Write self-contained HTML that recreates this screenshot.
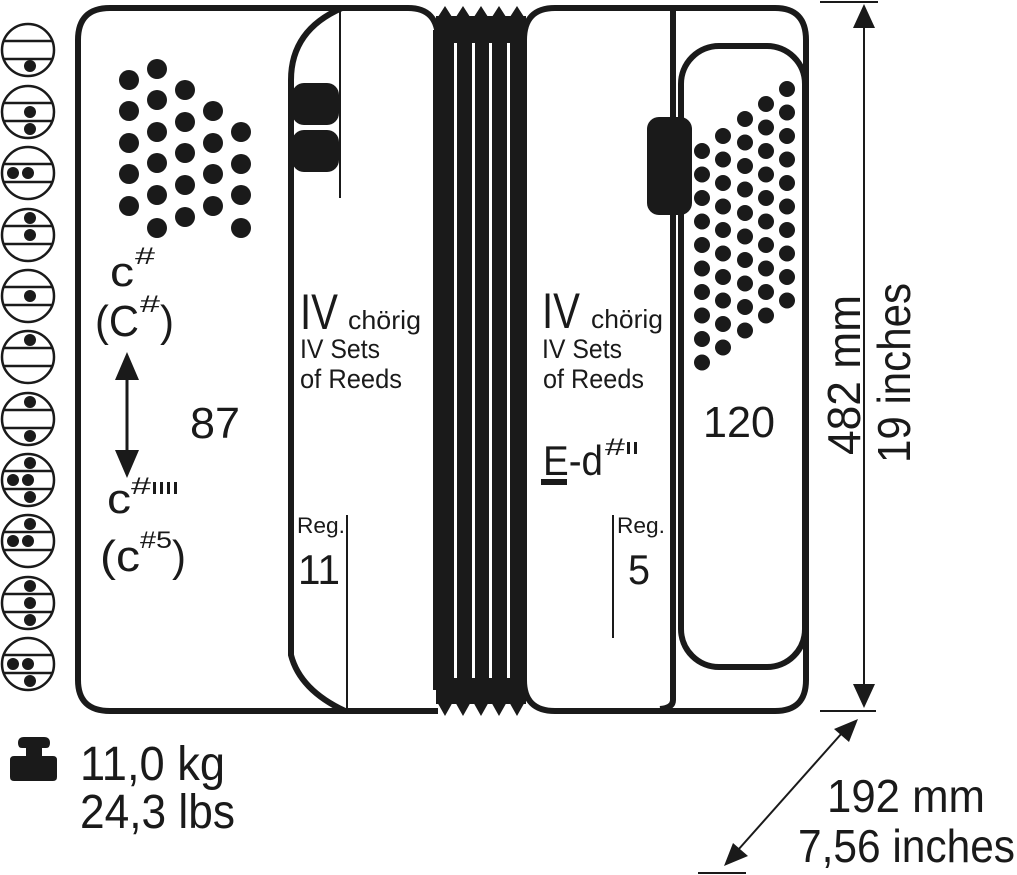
<!DOCTYPE html>
<html><head><meta charset="utf-8"><style>
html,body{margin:0;padding:0;background:#fff;}
svg{display:block;}
text{font-family:"Liberation Sans Narrow","Liberation Sans",sans-serif;fill:#1a1a1a;}
</style></head><body>
<svg width="1017" height="875" viewBox="0 0 1017 875" xmlns="http://www.w3.org/2000/svg">
<g stroke="#1a1a1a" fill="none">
<g stroke-width="2.5">
<circle cx="28" cy="50" r="26"/><line x1="3" y1="41" x2="53" y2="41"/><line x1="3" y1="59" x2="53" y2="59"/>
<circle cx="28" cy="112" r="26"/><line x1="3" y1="103" x2="53" y2="103"/><line x1="3" y1="121" x2="53" y2="121"/>
<circle cx="28" cy="173" r="26"/><line x1="3" y1="164" x2="53" y2="164"/><line x1="3" y1="182" x2="53" y2="182"/>
<circle cx="28" cy="235" r="26"/><line x1="3" y1="226" x2="53" y2="226"/><line x1="3" y1="244" x2="53" y2="244"/>
<circle cx="28" cy="296" r="26"/><line x1="3" y1="287" x2="53" y2="287"/><line x1="3" y1="305" x2="53" y2="305"/>
<circle cx="28" cy="357" r="26"/><line x1="3" y1="348" x2="53" y2="348"/><line x1="3" y1="366" x2="53" y2="366"/>
<circle cx="28" cy="419" r="26"/><line x1="3" y1="410" x2="53" y2="410"/><line x1="3" y1="428" x2="53" y2="428"/>
<circle cx="28" cy="480" r="26"/><line x1="3" y1="471" x2="53" y2="471"/><line x1="3" y1="489" x2="53" y2="489"/>
<circle cx="28" cy="541" r="26"/><line x1="3" y1="532" x2="53" y2="532"/><line x1="3" y1="550" x2="53" y2="550"/>
<circle cx="28" cy="603" r="26"/><line x1="3" y1="594" x2="53" y2="594"/><line x1="3" y1="612" x2="53" y2="612"/>
<circle cx="28" cy="664" r="26"/><line x1="3" y1="655" x2="53" y2="655"/><line x1="3" y1="673" x2="53" y2="673"/>
</g>
</g>
<g fill="#1a1a1a">
<circle cx="30" cy="66" r="6"/>
<circle cx="30" cy="112" r="6"/><circle cx="30" cy="129" r="6"/>
<circle cx="13" cy="173" r="6"/><circle cx="28" cy="173" r="6"/>
<circle cx="30" cy="218" r="6"/><circle cx="30" cy="235" r="6"/>
<circle cx="30" cy="296" r="6"/>
<circle cx="30" cy="340" r="6"/>
<circle cx="30" cy="402" r="6"/><circle cx="30" cy="436" r="6"/>
<circle cx="30" cy="463" r="6"/><circle cx="13" cy="480" r="6"/><circle cx="28" cy="480" r="6"/><circle cx="30" cy="497" r="6"/>
<circle cx="30" cy="524" r="6"/><circle cx="13" cy="541" r="6"/><circle cx="28" cy="541" r="6"/>
<circle cx="30" cy="586" r="6"/><circle cx="30" cy="603" r="6"/><circle cx="30" cy="620" r="6"/>
<circle cx="13" cy="664" r="6"/><circle cx="28" cy="664" r="6"/><circle cx="30" cy="681" r="6"/>
</g>

<g fill="#1a1a1a">
<rect x="436" y="16" width="90" height="688"/>
<path d="M436,20 L445,6 L454,20 L463,6 L472,20 L481,6 L490,20 L499,6 L508,20 L517,6 L526,20z"/>
<path d="M436,700 L445,716 L454,700 L463,716 L472,700 L481,716 L490,700 L499,716 L508,700 L517,716 L526,700z"/>
</g>
<g fill="#fff">
<rect x="454" y="43" width="3" height="635"/>
<rect x="472" y="43" width="3" height="635"/>
<rect x="489" y="43" width="3" height="635"/>
<rect x="507" y="43" width="3" height="635"/>
</g>

<g fill="none" stroke="#1a1a1a" stroke-width="6">
<path d="M438,40 Q438,8 408,8 L110,8 Q78,8 78,40 L78,680 Q78,711 110,711 L438,711"/>
<line x1="436" y1="30" x2="436" y2="690"/>
<path d="M342,8 Q291,30 291,80 L291,655 Q300,690 345,711"/>
<path d="M524,40 Q524,8 555,8 L775,8 Q806,8 806,40 L806,680 Q806,711 775,711 L555,711 Q524,711 524,680z"/>
<path d="M673,10 L673,700 Q673,708 660,709"/>
<rect x="681" y="46" width="124" height="621" rx="38" ry="38"/>
</g>
<g stroke="#1a1a1a" stroke-width="2" fill="none">
<line x1="340" y1="8" x2="340" y2="198"/>
<line x1="347" y1="515" x2="347" y2="711"/>
<line x1="613" y1="515" x2="613" y2="638"/>
</g>

<g fill="#1a1a1a">
<circle cx="129" cy="80" r="10"/><circle cx="129" cy="111" r="10"/><circle cx="129" cy="143" r="10"/><circle cx="129" cy="174" r="10"/><circle cx="129" cy="206" r="10"/>
<circle cx="157" cy="69" r="10"/><circle cx="157" cy="100" r="10"/><circle cx="157" cy="132" r="10"/><circle cx="157" cy="163" r="10"/><circle cx="157" cy="195" r="10"/><circle cx="157" cy="228" r="10"/>
<circle cx="185" cy="90" r="10"/><circle cx="185" cy="122" r="10"/><circle cx="185" cy="153" r="10"/><circle cx="185" cy="185" r="10"/><circle cx="185" cy="217" r="10"/>
<circle cx="213" cy="111" r="10"/><circle cx="213" cy="143" r="10"/><circle cx="213" cy="174" r="10"/><circle cx="213" cy="206" r="10"/>
<circle cx="241" cy="132" r="10"/><circle cx="241" cy="164" r="10"/><circle cx="241" cy="195" r="10"/><circle cx="241" cy="228" r="10"/>
<rect x="292" y="83" width="47" height="42" rx="12"/>
<rect x="292" y="130" width="47" height="42" rx="12"/>
<rect x="647" y="117" width="45" height="98" rx="12"/>
</g>
<g fill="#1a1a1a">
<circle cx="702" cy="151" r="8"/><circle cx="702" cy="174.5" r="8"/><circle cx="702" cy="198" r="8"/><circle cx="702" cy="221.5" r="8"/><circle cx="702" cy="245" r="8"/><circle cx="702" cy="268.5" r="8"/><circle cx="702" cy="292" r="8"/><circle cx="702" cy="315.5" r="8"/><circle cx="702" cy="339" r="8"/><circle cx="702" cy="362.5" r="8"/>
<circle cx="723" cy="136" r="8"/><circle cx="723" cy="159.5" r="8"/><circle cx="723" cy="183" r="8"/><circle cx="723" cy="206.5" r="8"/><circle cx="723" cy="230" r="8"/><circle cx="723" cy="253.5" r="8"/><circle cx="723" cy="277" r="8"/><circle cx="723" cy="300.5" r="8"/><circle cx="723" cy="324" r="8"/><circle cx="723" cy="347.5" r="8"/>
<circle cx="745" cy="119" r="8"/><circle cx="745" cy="142.5" r="8"/><circle cx="745" cy="166" r="8"/><circle cx="745" cy="189.5" r="8"/><circle cx="745" cy="213" r="8"/><circle cx="745" cy="236.5" r="8"/><circle cx="745" cy="260" r="8"/><circle cx="745" cy="283.5" r="8"/><circle cx="745" cy="307" r="8"/><circle cx="745" cy="330.5" r="8"/>
<circle cx="766" cy="104" r="8"/><circle cx="766" cy="127.5" r="8"/><circle cx="766" cy="151" r="8"/><circle cx="766" cy="174.5" r="8"/><circle cx="766" cy="198" r="8"/><circle cx="766" cy="221.5" r="8"/><circle cx="766" cy="245" r="8"/><circle cx="766" cy="268.5" r="8"/><circle cx="766" cy="292" r="8"/><circle cx="766" cy="315.5" r="8"/>
<circle cx="787" cy="89" r="8"/><circle cx="787" cy="112.5" r="8"/><circle cx="787" cy="136" r="8"/><circle cx="787" cy="159.5" r="8"/><circle cx="787" cy="183" r="8"/><circle cx="787" cy="206.5" r="8"/><circle cx="787" cy="230" r="8"/><circle cx="787" cy="253.5" r="8"/><circle cx="787" cy="277" r="8"/><circle cx="787" cy="300.5" r="8"/>
</g>

<line x1="127" y1="375" x2="127" y2="455" stroke="#1a1a1a" stroke-width="3"/>
<path d="M127,352 L139,380 L115,380z M127,478 L139,450 L115,450z" fill="#1a1a1a"/>

<text x="110" y="286" font-size="42" textLength="24" lengthAdjust="spacingAndGlyphs">c</text>
<text x="135" y="264" font-size="24" textLength="20" lengthAdjust="spacingAndGlyphs">#</text>
<text x="95" y="336" font-size="44" textLength="44" lengthAdjust="spacingAndGlyphs">(C</text>
<text x="140" y="312" font-size="24" textLength="20" lengthAdjust="spacingAndGlyphs">#</text>
<text x="160" y="336" font-size="44" textLength="14" lengthAdjust="spacingAndGlyphs">)</text>
<text x="190" y="438" font-size="44" textLength="50" lengthAdjust="spacingAndGlyphs">87</text>
<text x="107" y="513" font-size="42" textLength="24" lengthAdjust="spacingAndGlyphs">c</text>
<text x="131" y="494" font-size="24" textLength="20" lengthAdjust="spacingAndGlyphs">#</text>
<g fill="#1a1a1a"><rect x="153" y="482" width="3" height="12"/><rect x="160" y="482" width="3" height="12"/><rect x="167" y="482" width="3" height="12"/><rect x="174" y="482" width="3" height="12"/></g>
<text x="100" y="571" font-size="44" textLength="40" lengthAdjust="spacingAndGlyphs">(c</text>
<text x="140" y="548" font-size="24" textLength="32" lengthAdjust="spacingAndGlyphs">#5</text>
<text x="172" y="571" font-size="44" textLength="14" lengthAdjust="spacingAndGlyphs">)</text>

<text x="300" y="329" font-size="50" textLength="38" lengthAdjust="spacingAndGlyphs">IV</text>
<text x="348" y="329" font-size="26" textLength="73" lengthAdjust="spacingAndGlyphs">chörig</text>
<text x="300" y="358" font-size="27" textLength="80" lengthAdjust="spacingAndGlyphs">IV Sets</text>
<text x="300" y="388" font-size="27" textLength="102" lengthAdjust="spacingAndGlyphs">of Reeds</text>
<text x="297" y="533" font-size="22" textLength="48" lengthAdjust="spacingAndGlyphs">Reg.</text>
<text x="298" y="584" font-size="42" textLength="42" lengthAdjust="spacingAndGlyphs">11</text>

<text x="542" y="328" font-size="50" textLength="38" lengthAdjust="spacingAndGlyphs">IV</text>
<text x="591" y="328" font-size="26" textLength="72" lengthAdjust="spacingAndGlyphs">chörig</text>
<text x="542" y="358" font-size="27" textLength="80" lengthAdjust="spacingAndGlyphs">IV Sets</text>
<text x="543" y="388" font-size="27" textLength="101" lengthAdjust="spacingAndGlyphs">of Reeds</text>
<text x="543" y="475" font-size="42" textLength="60" lengthAdjust="spacingAndGlyphs">E-d</text>
<text x="605" y="455" font-size="24" textLength="20" lengthAdjust="spacingAndGlyphs">#</text>
<g fill="#1a1a1a"><rect x="627" y="442" width="3" height="12"/><rect x="634" y="442" width="3" height="12"/><rect x="541" y="479" width="26" height="6"/></g>
<text x="617" y="533" font-size="22" textLength="48" lengthAdjust="spacingAndGlyphs">Reg.</text>
<text x="628" y="584" font-size="42" textLength="22" lengthAdjust="spacingAndGlyphs">5</text>
<text x="703" y="437" font-size="44" textLength="72" lengthAdjust="spacingAndGlyphs">120</text>

<g stroke="#1a1a1a" stroke-width="2" fill="none">
<line x1="820" y1="2" x2="878" y2="2"/>
<line x1="820" y1="711" x2="876" y2="711"/>
<line x1="864" y1="20" x2="864" y2="690"/>
<line x1="698" y1="873" x2="746" y2="873"/>
<line x1="842" y1="733" x2="738" y2="850"/>
</g>
<path d="M864,4 L853,28 L875,28z M864,708 L853,684 L875,684z" fill="#1a1a1a"/>
<path d="M858,719 L849,742 L834,729z M724,866 L733,843 L748,856z" fill="#1a1a1a"/>
<text transform="translate(860,455) rotate(-90)" font-size="46" textLength="160" lengthAdjust="spacingAndGlyphs">482 mm</text>
<text transform="translate(910,463) rotate(-90)" font-size="46" textLength="180" lengthAdjust="spacingAndGlyphs">19 inches</text>
<text x="827" y="812" font-size="46" textLength="158" lengthAdjust="spacingAndGlyphs">192 mm</text>
<text x="798" y="862" font-size="46" textLength="217" lengthAdjust="spacingAndGlyphs">7,56 inches</text>

<path d="M22,748 Q18,748 18,743 Q18,737 24,737 L44,737 Q50,737 50,743 Q50,748 46,748 L42,748 L42,756 L53,756 Q57,756 57,760 L57,777 Q57,781 53,781 L14,781 Q10,781 10,777 L10,760 Q10,756 14,756 L26,756 L26,748z" fill="#1a1a1a"/>
<text x="80" y="780" font-size="48" textLength="145" lengthAdjust="spacingAndGlyphs">11,0 kg</text>
<text x="80" y="828" font-size="48" textLength="155" lengthAdjust="spacingAndGlyphs">24,3 lbs</text>
</svg>
</body></html>
